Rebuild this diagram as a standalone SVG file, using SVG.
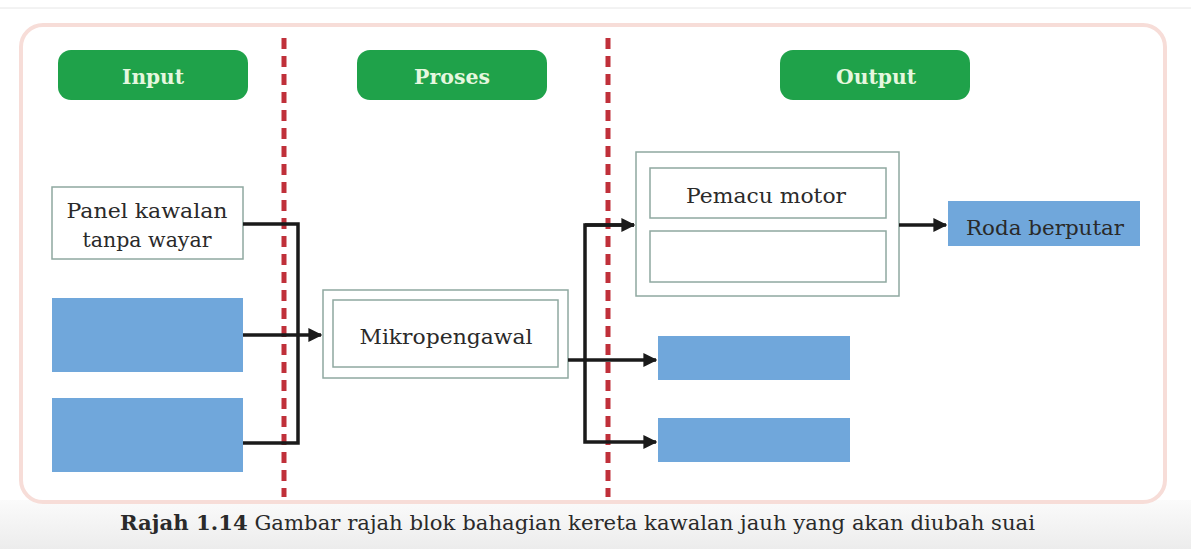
<svg xmlns="http://www.w3.org/2000/svg" width="1191" height="549" viewBox="0 0 1191 549">
<defs>
<marker id="arr" viewBox="0 0 10 10" refX="9" refY="5" markerWidth="4" markerHeight="4" markerUnits="strokeWidth" orient="auto">
<path d="M0,0 L10,5 L0,10 z" fill="#1a1a1a"/>
</marker>
<linearGradient id="bg" x1="0" y1="0" x2="0" y2="1">
<stop offset="0" stop-color="#fbfbfb"/>
<stop offset="1" stop-color="#ececec"/>
</linearGradient>
</defs>
<style>
.hdr{fill:#1fa24a;}
.hdrt{font-family:"DejaVu Serif","Liberation Serif",serif;font-weight:bold;font-size:21px;fill:#e6f7df;text-anchor:middle;}
.box{fill:#ffffff;stroke:#8fa8a0;stroke-width:1.5;}
.blue{fill:#70a7db;}
.t{font-family:"DejaVu Serif","Liberation Serif",serif;font-size:21px;fill:#2a2a2a;text-anchor:middle;}
.dash{stroke:#c0303a;stroke-width:5;stroke-dasharray:11,7;fill:none;}
.con{stroke:#1a1a1a;stroke-width:3.5;fill:none;}
.cap{font-family:"DejaVu Serif","Liberation Serif",serif;font-size:20px;fill:#2a2a2a;}
</style>
<rect x="0" y="0" width="1191" height="549" fill="#ffffff"/>
<rect x="0" y="500" width="1191" height="49" fill="url(#bg)"/>
<line x1="0" y1="8" x2="1191" y2="8" stroke="#e6e6e6" stroke-width="1"/>
<rect x="21" y="25" width="1144" height="477" rx="22" fill="#ffffff" stroke="#f7ddd8" stroke-width="4"/>

<g id="dividers">
<line class="dash" x1="284" y1="38" x2="284" y2="497"/>
<line class="dash" x1="608" y1="38" x2="608" y2="497"/>
</g>

<g id="hdr-input"><rect class="hdr" x="58" y="50" width="190" height="50" rx="13"/><text class="hdrt" x="153" y="84" textLength="62" lengthAdjust="spacingAndGlyphs">Input</text></g>
<g id="hdr-proses"><rect class="hdr" x="357" y="50" width="190" height="50" rx="13"/><text class="hdrt" x="452" y="84" textLength="76" lengthAdjust="spacingAndGlyphs">Proses</text></g>
<g id="hdr-output"><rect class="hdr" x="780" y="50" width="190" height="50" rx="13"/><text class="hdrt" x="876" y="84" textLength="80" lengthAdjust="spacingAndGlyphs">Output</text></g>

<g id="panel"><rect class="box" x="52" y="187" width="191" height="72"/><text class="t" x="147" y="218" textLength="161" lengthAdjust="spacingAndGlyphs">Panel kawalan</text><text class="t" x="147" y="247" textLength="129" lengthAdjust="spacingAndGlyphs">tanpa wayar</text></g>
<g id="input2"><rect class="blue" x="52" y="298" width="191" height="74"/></g>
<g id="input3"><rect class="blue" x="52" y="398" width="191" height="74"/></g>

<g id="mikro"><rect class="box" x="323" y="290" width="245" height="88"/><rect class="box" x="333" y="300" width="225" height="67"/><text class="t" x="446" y="344" textLength="173" lengthAdjust="spacingAndGlyphs">Mikropengawal</text></g>

<g id="pemacu"><rect class="box" x="636" y="152" width="263" height="144"/><rect class="box" x="650" y="168" width="236" height="50"/><text class="t" x="766" y="203" textLength="160" lengthAdjust="spacingAndGlyphs">Pemacu motor</text><rect class="box" x="650" y="231" width="236" height="51"/></g>

<g id="roda"><rect class="blue" x="948" y="201" width="192" height="45"/><text class="t" x="1045" y="235" fill="#1f2a3a" textLength="158" lengthAdjust="spacingAndGlyphs">Roda berputar</text></g>
<g id="output2"><rect class="blue" x="658" y="336" width="192" height="44"/></g>
<g id="output3"><rect class="blue" x="658" y="418" width="192" height="44"/></g>

<g id="connectors">
<polyline class="con" points="243,224 298,224 298,443 243,443"/>
<line class="con" x1="243" y1="335" x2="321" y2="335" marker-end="url(#arr)"/>
<line class="con" x1="568" y1="360" x2="656" y2="360" marker-end="url(#arr)"/>
<polyline class="con" points="634,225 585,225 585,442 656,442" marker-end="url(#arr)"/>
<line class="con" x1="585" y1="225" x2="634" y2="225" marker-end="url(#arr)"/>
<line class="con" x1="899" y1="225" x2="946" y2="225" marker-end="url(#arr)"/>
</g>

<text class="cap" x="120" y="530" textLength="915" lengthAdjust="spacingAndGlyphs"><tspan font-weight="bold">Rajah 1.14</tspan> Gambar rajah blok bahagian kereta kawalan jauh yang akan diubah suai</text>
</svg>
